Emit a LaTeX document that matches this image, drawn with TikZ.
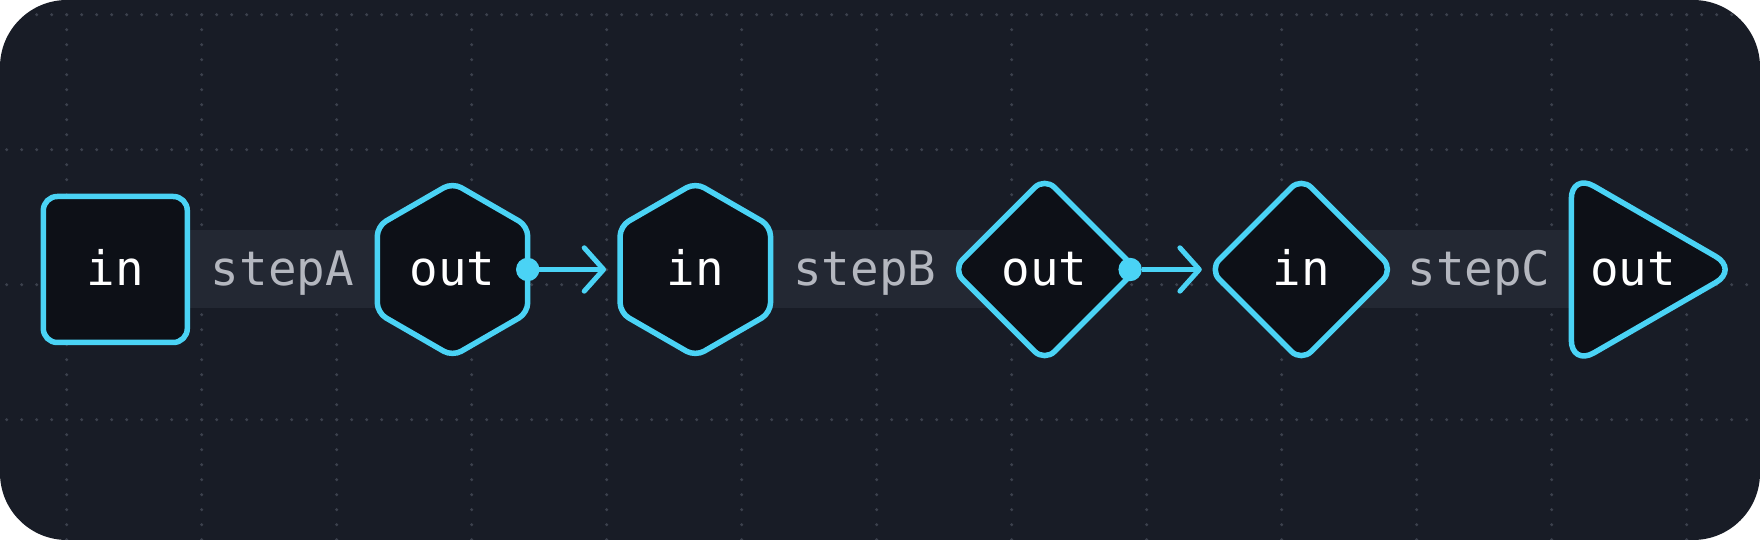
\documentclass[tikz,border=0pt]{standalone}
\usepackage{fontspec}
\newfontfamily\monof{DejaVu Sans Mono}
\usetikzlibrary{calc,arrows.meta}
\definecolor{bgc}{HTML}{181C26}
\definecolor{nodefill}{HTML}{0D1017}
\definecolor{bandc}{HTML}{232833}
\definecolor{cyanc}{HTML}{4AD3F5}
\definecolor{dotc}{HTML}{3B404C}
\definecolor{labc}{HTML}{B4B7BF}
\pgfdeclarelayer{gridl}
\pgfdeclarelayer{bandl}
\pgfdeclarelayer{shapel}
\pgfsetlayers{gridl,bandl,shapel,main}
\begin{document}
\begin{tikzpicture}[x=1pt,y=1pt,
  txt/.style={inner sep=0pt, outer sep=0pt, text height=32pt, text depth=0pt,
    font=\monof\fontsize{47.5}{50}\selectfont},
  nodetxt/.style={txt, text=white},
  labtxt/.style={txt, text=labc},
  holder/.style={nodetxt, rectangle, draw=none},
  shp/.style={draw=cyanc, fill=nodefill, line width=5.5pt, line join=round},
  bandbox/.style={fill=bandc},
  port/.style={circle, fill=cyanc, minimum size=23.4pt, inner sep=0pt, outer sep=0pt},
  conn/.style={draw=cyanc, line width=5pt,
    -{Straight Barb[length=19.4pt,width=43.4pt,round]}, shorten >=14pt},
  gdot/.style={fill=dotc}
]
\useasboundingbox (0,0) rectangle (1760,540);

% background and dotted grid
\begin{pgfonlayer}{gridl}
  \fill[white] (0,0) rectangle (1760,540);
  \fill[bgc, rounded corners=67pt] (0,0) rectangle (1760,540);
  \begin{scope}
    \clip[rounded corners=67pt] (0,0) rectangle (1760,540);
    \foreach \k in {0,...,12}
      \foreach \j in {0,...,35}
        \fill[gdot] (66.7+135*\k, 525.3-15*\j) circle (1.7pt);
    \foreach \m in {0,...,3}
      \foreach \i in {0,...,117}
        \fill[gdot] (6.7+15*\i, 525.3-135*\m) circle (1.7pt);
  \end{scope}
\end{pgfonlayer}

% nodes (text holders sized like their shapes)
\node[holder, minimum width=144pt, minimum height=146pt] (sq) at (115.3,270.5) {in};
\node[holder, minimum width=150.4pt, minimum height=173.6pt] (h1) at (452.5,270.5) {out};
\node[holder, minimum width=150.4pt, minimum height=173.6pt] (h2) at (695.3,270.5) {in};
\node[holder, minimum width=171pt, minimum height=183.8pt] (d1) at (1044.6,270.5) {out};
\node[holder, minimum width=171pt, minimum height=183.8pt] (d2) at (1301.3,270.5) {in};
\node[holder, minimum width=167pt, minimum height=192.8pt] (tri) at (1654.8,270.5) {};
\node[nodetxt] (trit) at ($(tri.center)+(-21.8,0)$) {out};

% step labels
\node[labtxt] (la) at ($(sq.east)!0.5!(h1.west)$) {stepA};
\node[labtxt] (lb) at ($(h2.east)!0.5!(d1.west)$) {stepB};
\node[labtxt] (lc) at ($(d2.east)!0.5!(tri.west)$) {stepC};

% bands
\begin{pgfonlayer}{bandl}
  \fill[bandbox] ($(sq.center)+(0,-39)$) rectangle ($(h1.center)+(0,39)$);
  \fill[bandbox] ($(h2.center)+(0,-39)$) rectangle ($(d1.center)+(0,39)$);
  \fill[bandbox] ($(d2.center)+(0,-39)$) rectangle ($(tri.center)+(0,39)$);
\end{pgfonlayer}

% shapes
\begin{pgfonlayer}{shapel}
  \draw[shp, rounded corners=14pt] (sq.south west) rectangle (sq.north east);
  \foreach \n in {h1,h2}
    \draw[shp, rounded corners=10pt] (\n.east) -- ($(\n.east)+(0,43.4)$) -- (\n.north)
      -- ($(\n.west)+(0,43.4)$) -- ($(\n.west)+(0,-43.4)$) -- (\n.south)
      -- ($(\n.east)+(0,-43.4)$) -- cycle;
  \foreach \n in {d1,d2}
    \draw[shp, rounded corners=14pt] ($(\n.center)+(45.95,45.95)$) -- ($(\n.center)+(0,91.9)$)
      -- ($(\n.center)+(-91.9,0)$) -- ($(\n.center)+(0,-91.9)$)
      -- ($(\n.center)+(91.9,0)$) -- cycle;
  \draw[shp, rounded corners=26pt] (tri.west) -- (tri.north west) -- (tri.east)
    -- (tri.south west) -- cycle;
\end{pgfonlayer}

% ports and connectors
\node[port] (p1) at (h1.east) {};
\node[port] (p2) at (d1.east) {};
\draw[conn] (p1) -- (h2.west);
\draw[conn] (p2) -- (d2.west);
\end{tikzpicture}
\end{document}
